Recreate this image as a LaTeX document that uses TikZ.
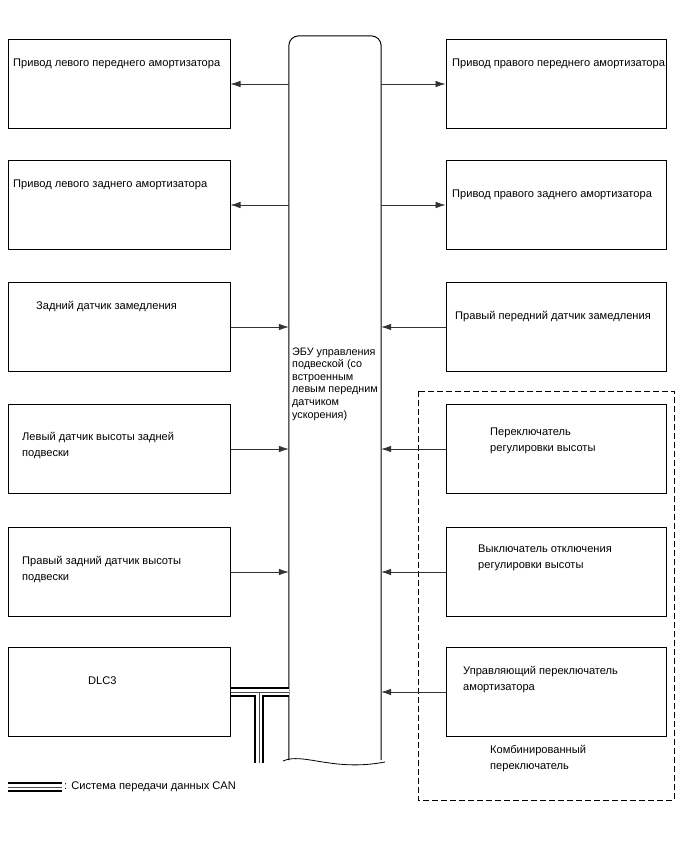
\documentclass[tikz,border=0pt]{standalone}
\usepackage{fontspec}
\setmainfont{Liberation Sans}
\usetikzlibrary{arrows.meta}

\tikzset{
  unitbox/.style={draw, line width=1pt, minimum width=222pt, minimum height=89pt, inner sep=0pt},
  lbl/.style={anchor=base west, align=left, inner sep=0pt, font=\fontsize{11.1}{15.5}\selectfont},
  sig/.style={line width=0.7pt, draw=black!80, -{Latex[length=10pt,width=6.5pt]}},
  canbus/.style={draw=black, line width=9.5pt,
    postaction={draw=white, line width=6pt},
    postaction={draw=black!70, line width=0.6pt}},
}

\begin{document}
\begin{tikzpicture}[x=1pt,y=-1pt]
  \useasboundingbox (0,0) rectangle (688,852);

  % boxes on both sides
  \foreach \i/\y in {1/84,2/205,3/327,4/449,5/572,6/692}{
    \node[unitbox] (lb\i) at (119,\y) {};
    \node[unitbox, minimum width=220pt] (rb\i) at (556,\y) {};
  }

  % ECU column
  \node[minimum width=92pt, minimum height=724pt, inner sep=0pt] (ecu) at (335,398) {};
  \draw[line width=1pt, rounded corners=10pt] (ecu.south west) -- (ecu.north west) -- (ecu.north east) -- (ecu.south east);
  \draw[line width=0.8pt] (283,761) .. controls (303,752) and (333,772) .. (385,762);
  \node[lbl, font=\fontsize{10.8}{12.6}\selectfont] (ecutxt) at (292,418)
    {ЭБУ управления\\подвеской (со\\встроенным\\левым передним\\датчиком\\ускорения)};

  % combined switch
  \draw[dashed, line width=1pt, dash pattern=on 6pt off 3pt] (418,391) rectangle (674,800);
  \node[lbl] (comb) at (490,769) {Комбинированный\\переключатель};

  % labels
  \node[lbl] (t1) at (13,66) {Привод левого переднего амортизатора};
  \node[lbl] (t2) at (13,187) {Привод левого заднего амортизатора};
  \node[lbl] (t3) at (36,309) {Задний датчик замедления};
  \node[lbl] (t4) at (22,456) {Левый датчик высоты задней\\подвески};
  \node[lbl] (t5) at (22,580) {Правый задний датчик высоты\\подвески};
  \node[lbl] (t6) at (88,684) {DLC3};
  \node[lbl] (u1) at (452,66) {Привод правого переднего амортизатора};
  \node[lbl] (u2) at (452,197) {Привод правого заднего амортизатора};
  \node[lbl] (u3) at (455,319) {Правый передний датчик замедления};
  \node[lbl] (u4) at (490,451) {Переключатель\\регулировки высоты};
  \node[lbl] (u5) at (478,568) {Выключатель отключения\\регулировки высоты};
  \node[lbl] (u6) at (463,690) {Управляющий переключатель\\амортизатора};

  % signals
  \draw[sig] (ecu.west |- lb1.east) -- (lb1.east);
  \draw[sig] (ecu.east |- rb1.west) -- (rb1.west);
  \draw[sig] (ecu.west |- lb2.east) -- (lb2.east);
  \draw[sig] (ecu.east |- rb2.west) -- (rb2.west);
  \foreach \i in {3,4,5}{
    \draw[sig] (lb\i.east) -- (ecu.west |- lb\i.east);
    \draw[sig] (rb\i.west) -- (ecu.east |- rb\i.west);
  }
  \draw[sig] (rb6.west) -- (ecu.east |- rb6.west);

  % CAN line
  \coordinate (tee) at (259,692);
  \coordinate (teeend) at (259,763);
  \path[canbus] (lb6.east) -- (ecu.west |- lb6.east) (tee) -- (teeend);

  % legend
  \coordinate (lega) at (8,787);
  \coordinate (legb) at (62,787);
  \path[canbus] (lega) -- (legb);
  \node[lbl, anchor=west] (legtxt) at (64,787) {: Система передачи данных CAN};
\end{tikzpicture}
\end{document}
